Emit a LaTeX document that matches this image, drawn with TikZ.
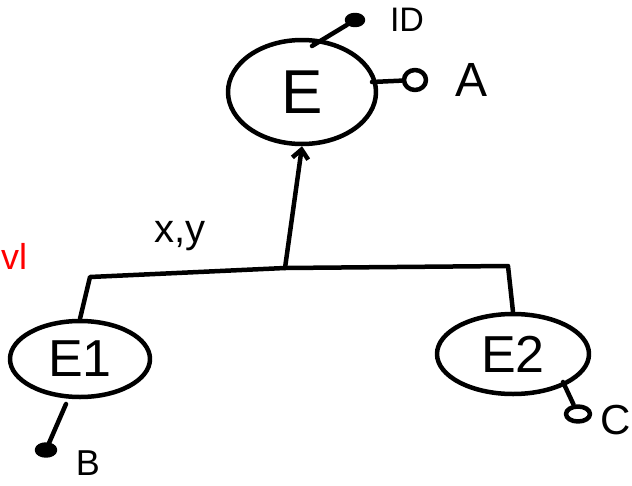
\documentclass[tikz,border=0pt]{standalone}
\usepackage{fontspec}
\setmainfont{Liberation Sans}
\usetikzlibrary{shapes.geometric,arrows.meta}
\begin{document}
\begin{tikzpicture}[x=1pt,y=-1pt,
  ink/.style={line width=4.5pt,line cap=round,line join=round,black},
  entity/.style={ink,draw,ellipse,inner sep=0pt},
  attr/.style={ink,draw,ellipse,inner sep=0pt},
  lbl/.style={inner sep=0pt,text=black}]
\useasboundingbox (0,0) rectangle (632,485);
\clip (0,0) rectangle (632,485);
% entities
\node[entity,minimum width=148pt,minimum height=104pt] (E) at (302,92) {\fontsize{62}{62}\selectfont E};
\node[entity,minimum width=140pt,minimum height=76pt] (E1) at (80,359) {\fontsize{52}{52}\selectfont E1};
\node[entity,minimum width=152pt,minimum height=80pt] (E2) at (513,354) {\fontsize{52}{52}\selectfont E2};
% attributes
\node[attr,fill=black,minimum width=16pt,minimum height=10pt] (aID) at (355,20) {};
\node[attr,minimum width=22pt,minimum height=20pt] (aA) at (415,80) {};
\node[attr,fill=black,minimum width=18pt,minimum height=11pt] (aB) at (46,450) {};
\node[attr,minimum width=24pt,minimum height=15pt] (aC) at (578,414) {};
\coordinate (pID) at (312,46);
\coordinate (pA) at (372,82);
\coordinate (pB) at (66,404);
\coordinate (pC) at (563,382);
\draw[ink] (pID) -- (aID);
\draw[ink] (pA) -- (aA);
\draw[ink] (pB) -- (aB);
\draw[ink] (pC) -- (aC);
% labels
\node[lbl] (tID) at (407,20) {\fontsize{34}{34}\selectfont ID};
\node[lbl] (tA) at (472,80) {\fontsize{48}{48}\selectfont A};
\node[lbl] (tB) at (88,463) {\fontsize{36}{36}\selectfont B};
\node[lbl,anchor=east] (tC) at (631,420) {\fontsize{42}{42}\selectfont C};
\node[lbl] (txy) at (180,236) {\fontsize{40}{40}\selectfont x,y};
\node[lbl,text=red,anchor=west] (tvl) at (1,256) {\fontsize{36}{36}\selectfont vl};
% generalization
\coordinate (j) at (285,268);
\coordinate (jl) at (90,277);
\coordinate (jr) at (508,266);
\draw[ink] (E1.north) -- (jl) -- (j) -- (jr) -- (E2.north);
\draw[ink,-{Straight Barb[length=9pt,width=16pt]}] (j) -- (E.south);
\end{tikzpicture}
\end{document}
